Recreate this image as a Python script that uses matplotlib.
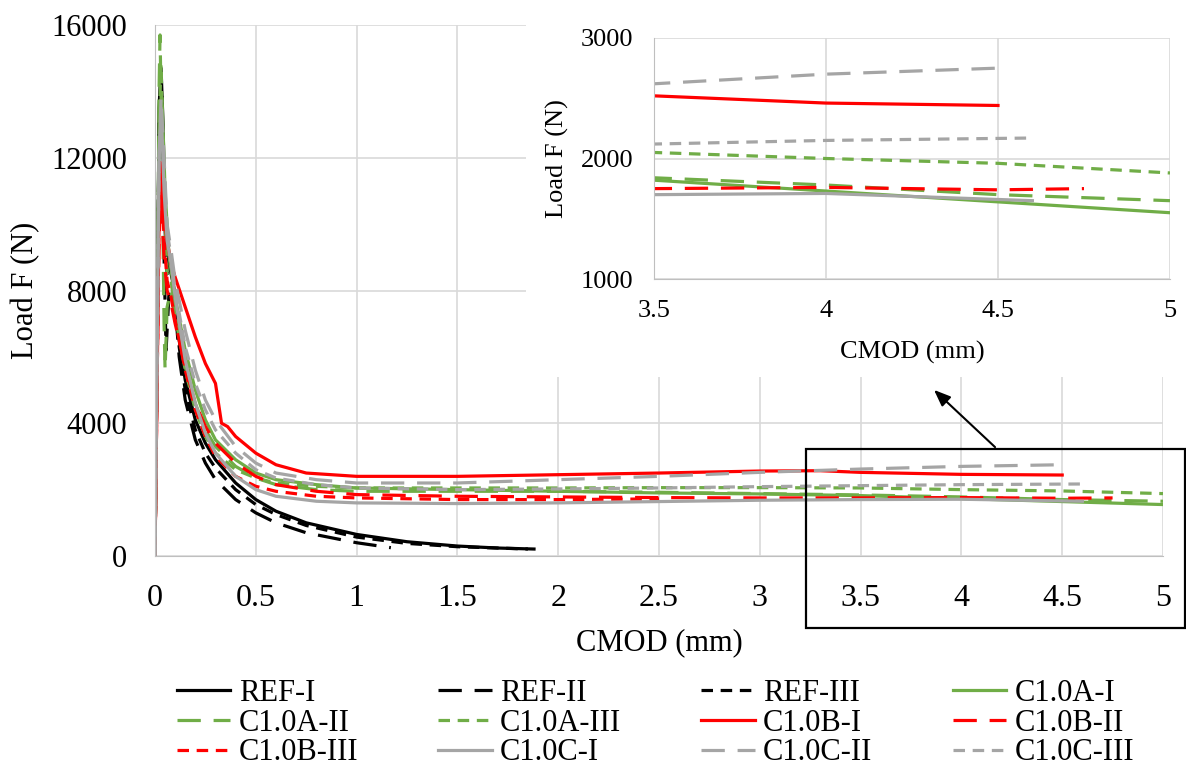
import matplotlib
matplotlib.use('Agg')
import matplotlib.pyplot as plt
from matplotlib.patches import Rectangle

plt.rcParams['font.family'] = ['Liberation Serif', 'DejaVu Serif']

# CMOD (mm) / Load F (N)
ref1_x = [0, 0.012, 0.02, 0.03, 0.04, 0.05, 0.07, 0.09, 0.12, 0.15, 0.2, 0.25, 0.3, 0.4, 0.5, 0.6, 0.75, 1.0, 1.25, 1.5, 1.7, 1.88]
ref1_y = [0, 7000, 13500, 14700, 13000, 10000, 8800, 8200, 6500, 5300, 4100, 3400, 2900, 2200, 1700, 1350, 1000, 650, 430, 300, 240, 210]
ref2_x = [0, 0.012, 0.02, 0.035, 0.045, 0.055, 0.07, 0.09, 0.12, 0.15, 0.2, 0.25, 0.3, 0.4, 0.5, 0.6, 0.75, 1.0, 1.17]
ref2_y = [0, 7000, 13000, 14000, 9000, 6200, 8000, 8300, 6000, 4700, 3500, 2800, 2300, 1700, 1300, 1000, 700, 400, 250]
ref3_x = [0, 0.012, 0.02, 0.03, 0.045, 0.06, 0.08, 0.1, 0.12, 0.15, 0.2, 0.25, 0.3, 0.4, 0.5, 0.6, 0.75, 1.0, 1.25, 1.5, 1.85]
ref3_y = [0, 7000, 13000, 14500, 10500, 8500, 8700, 7800, 6300, 5000, 3800, 3100, 2650, 2000, 1550, 1250, 920, 570, 380, 280, 210]

a1_x = [0, 0.012, 0.02, 0.035, 0.05, 0.07, 0.1, 0.15, 0.2, 0.25, 0.3, 0.4, 0.5, 0.6, 0.8, 1.0, 1.5, 2.0, 2.5, 3.0, 3.5, 4.0, 4.5, 5.0]
a1_y = [0, 7000, 12500, 13800, 11000, 9000, 7800, 6200, 5000, 4100, 3500, 2900, 2500, 2300, 2150, 2050, 2000, 1950, 1900, 1870, 1820, 1730, 1640, 1550]
a2_x = [0, 0.012, 0.02, 0.025, 0.035, 0.045, 0.05, 0.06, 0.08, 0.1, 0.15, 0.2, 0.25, 0.3, 0.4, 0.5, 0.6, 0.8, 1.0, 1.5, 2.0, 2.5, 3.0, 3.5, 4.0, 4.5, 5.0]
a2_y = [0, 7000, 14000, 15700, 12000, 7000, 5600, 7500, 8000, 7200, 5700, 4600, 3800, 3300, 2700, 2350, 2150, 2000, 1950, 1950, 1950, 1920, 1880, 1840, 1780, 1700, 1650]
a3_x = [0, 0.012, 0.02, 0.03, 0.045, 0.06, 0.08, 0.1, 0.15, 0.2, 0.25, 0.3, 0.4, 0.5, 0.6, 0.8, 1.0, 1.5, 2.0, 2.5, 3.0, 3.5, 4.0, 4.5, 5.0]
a3_y = [0, 7000, 13000, 14800, 11000, 8500, 8300, 7300, 5600, 4400, 3600, 3100, 2600, 2350, 2200, 2100, 2050, 2050, 2050, 2060, 2060, 2050, 2000, 1960, 1880]

b1_x = [0, 0.012, 0.02, 0.03, 0.04, 0.06, 0.08, 0.1, 0.15, 0.2, 0.25, 0.3, 0.33, 0.36, 0.4, 0.5, 0.6, 0.75, 1.0, 1.5, 2.0, 2.5, 3.0, 3.3, 3.5, 4.0, 4.5]
b1_y = [0, 6000, 10000, 11500, 10500, 9500, 8800, 8400, 7500, 6600, 5800, 5200, 4000, 3900, 3600, 3100, 2750, 2500, 2400, 2400, 2450, 2500, 2560, 2570, 2520, 2460, 2440]
b2_x = [0, 0.012, 0.02, 0.03, 0.045, 0.06, 0.08, 0.1, 0.15, 0.2, 0.25, 0.3, 0.4, 0.5, 0.6, 0.8, 1.0, 1.5, 2.0, 2.5, 3.0, 3.5, 4.0, 4.5, 4.75]
b2_y = [0, 6000, 9500, 10800, 9000, 8000, 7600, 7000, 5700, 4600, 3900, 3400, 2800, 2400, 2150, 1950, 1850, 1800, 1780, 1760, 1750, 1750, 1760, 1740, 1750]
b3_x = [0, 0.012, 0.02, 0.03, 0.045, 0.06, 0.08, 0.1, 0.15, 0.2, 0.25, 0.3, 0.4, 0.5, 0.6, 0.8, 1.0, 1.5, 2.0, 2.5]
b3_y = [0, 6000, 10500, 12000, 9500, 8300, 7800, 7100, 5600, 4400, 3600, 3000, 2400, 2100, 1950, 1800, 1750, 1700, 1700, 1720]

c1_x = [0, 0.012, 0.02, 0.03, 0.045, 0.06, 0.08, 0.1, 0.15, 0.2, 0.25, 0.3, 0.4, 0.5, 0.6, 0.8, 1.0, 1.5, 2.0, 2.5, 3.0, 3.5, 4.0, 4.3, 4.6]
c1_y = [0, 7000, 12000, 13500, 11000, 9500, 8800, 7800, 5900, 4600, 3700, 3100, 2400, 2000, 1800, 1650, 1600, 1580, 1600, 1640, 1680, 1700, 1710, 1680, 1650]
c2_x = [0, 0.012, 0.02, 0.03, 0.045, 0.06, 0.08, 0.1, 0.15, 0.2, 0.25, 0.3, 0.4, 0.5, 0.6, 0.8, 1.0, 1.5, 2.0, 2.5, 3.0, 3.5, 4.0, 4.5]
c2_y = [0, 7000, 12000, 13800, 12000, 10000, 9200, 8300, 6800, 5600, 4700, 4100, 3300, 2800, 2500, 2300, 2200, 2200, 2300, 2400, 2520, 2620, 2700, 2750]
c3_x = [0, 0.012, 0.02, 0.03, 0.045, 0.06, 0.08, 0.1, 0.15, 0.2, 0.25, 0.3, 0.4, 0.5, 0.6, 0.8, 1.0, 1.5, 2.0, 2.5, 3.0, 3.5, 4.0, 4.6]
c3_y = [0, 7000, 12000, 13200, 11500, 9800, 9000, 8000, 6300, 5200, 4400, 3800, 3100, 2600, 2350, 2150, 2050, 2000, 2020, 2050, 2090, 2120, 2150, 2170]

labels = ['REF-I', 'REF-II', 'REF-III', 'C1.0A-I', 'C1.0A-II', 'C1.0A-III',
          'C1.0B-I', 'C1.0B-II', 'C1.0B-III', 'C1.0C-I', 'C1.0C-II', 'C1.0C-III']
xs = [ref1_x, ref2_x, ref3_x, a1_x, a2_x, a3_x, b1_x, b2_x, b3_x, c1_x, c2_x, c3_x]
ys = [ref1_y, ref2_y, ref3_y, a1_y, a2_y, a3_y, b1_y, b2_y, b3_y, c1_y, c2_y, c3_y]

colors = ['black'] * 3 + ['#70AD47'] * 3 + ['#FF0000'] * 3 + ['#A5A5A5'] * 3
dashes = [None, (7.3, 4), (3.6, 2.4)] * 4

fig = plt.figure(figsize=(11.86, 7.76), dpi=100)
ax = fig.add_axes([155 / 1186, 1 - 556 / 776, 1008 / 1186, 531 / 776])

handles = []
for x, y, lab, c, d in zip(xs, ys, labels, colors, dashes):
    ln, = ax.plot(x, y, color=c, lw=2.3, label=lab)
    if d is not None:
        ln.set_dashes(d)
    handles.append(ln)

ax.set_xlim(0, 5)
ax.set_ylim(0, 16000)
ax.set_xticks([0, 0.5, 1, 1.5, 2, 2.5, 3, 3.5, 4, 4.5, 5])
ax.set_xticklabels(['0', '0.5', '1', '1.5', '2', '2.5', '3', '3.5', '4', '4.5', '5'])
ax.set_yticks([0, 4000, 8000, 12000, 16000])
ax.tick_params(length=0, labelsize=22, pad=20)
ax.tick_params(axis='x', labelsize=23)
ax.grid(True, color='#D9D9D9', lw=1.2)
ax.set_axisbelow(True)
for s in ['top', 'right']:
    ax.spines[s].set_visible(False)
for s in ['left', 'bottom']:
    ax.spines[s].set_color('#BFBFBF')
ax.set_xlabel('CMOD (mm)', fontsize=22, labelpad=11)
ax.set_ylabel('Load F (N)', fontsize=22, labelpad=8)

# zoom box and arrow
ax.add_patch(Rectangle((3.229, -2170), 1.88, 5394, fill=False, ec='black', lw=1.6,
                       clip_on=False, zorder=10))
ax.annotate('', xy=(3.854, 5062), xytext=(4.177, 3224),
            arrowprops=dict(arrowstyle='-|>,head_width=0.4,head_length=1.0', color='black', lw=1.5),
            annotation_clip=False, zorder=10)

# white backing behind the inset
bg = fig.add_axes([526 / 1186, 1 - 377 / 776, 660 / 1186, 377 / 776])
bg.set_facecolor('white')
bg.set_xticks([])
bg.set_yticks([])
for s in bg.spines.values():
    s.set_visible(False)

ins = fig.add_axes([654 / 1186, 1 - 279 / 776, 516 / 1186, 241 / 776])
for x, y, c, d in zip(xs, ys, colors, dashes):
    ln, = ins.plot(x, y, color=c, lw=2.3)
    if d is not None:
        ln.set_dashes(d)
ins.set_xlim(3.5, 5)
ins.set_ylim(1000, 3000)
ins.set_xticks([3.5, 4, 4.5, 5])
ins.set_xticklabels(['3.5', '4', '4.5', '5'])
ins.set_yticks([1000, 2000, 3000])
ins.tick_params(length=0, labelsize=19, pad=15)
ins.grid(True, color='#D9D9D9', lw=1.2)
ins.set_axisbelow(True)
for s in ['top', 'right']:
    ins.spines[s].set_visible(False)
for s in ['left', 'bottom']:
    ins.spines[s].set_color('#BFBFBF')
ins.set_xlabel('CMOD (mm)', fontsize=19, labelpad=14)
ins.set_ylabel('Load F (N)', fontsize=19, labelpad=8)

order = [0, 4, 8, 1, 5, 9, 2, 6, 10, 3, 7, 11]
fig.legend([handles[i] for i in order], [labels[i] for i in order],
           loc='upper left', bbox_to_anchor=(177 / 1186, 1 - 679 / 776), ncol=4,
           frameon=False, fontsize=22, handlelength=1.75, handletextpad=0.27,
           columnspacing=2.62, labelspacing=0.02, borderpad=0, borderaxespad=0)

fig.savefig('out.png', dpi=100, facecolor='white')
